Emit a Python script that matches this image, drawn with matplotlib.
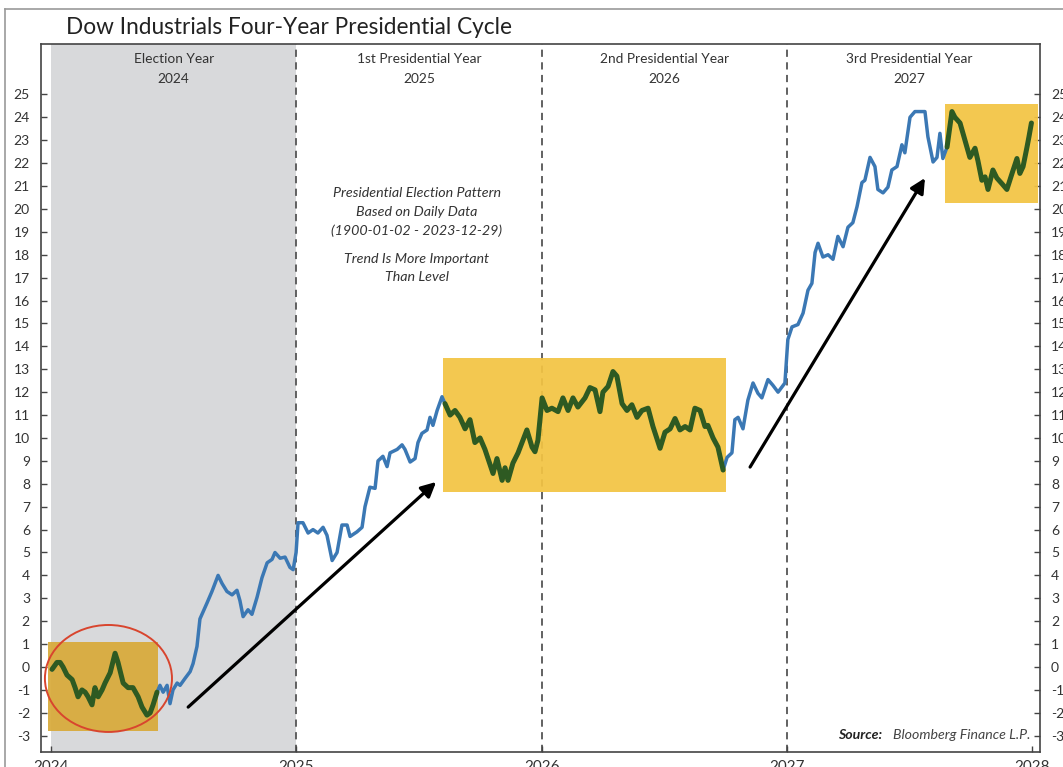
import matplotlib
matplotlib.use("Agg")
import matplotlib.pyplot as plt
from matplotlib.patches import Rectangle, Ellipse
import numpy as np

# ---------------- data ----------------
title = "Dow Industrials Four-Year Presidential Cycle"
year_ticks = [2024, 2025, 2026, 2027, 2028]
y_ticks = list(range(-3, 26))
year_headers = [("Election Year", "2024"), ("1st Presidential Year", "2025"),
                ("2nd Presidential Year", "2026"), ("3rd Presidential Year", "2027")]

t_years = [
    2024.004, 2024.024, 2024.037, 2024.049, 2024.065, 2024.086, 2024.098, 2024.110, 2024.126, 2024.139,
    2024.151, 2024.167, 2024.179, 2024.192, 2024.208, 2024.220, 2024.241, 2024.261, 2024.273, 2024.294,
    2024.314, 2024.334, 2024.355, 2024.371, 2024.391, 2024.404, 2024.416, 2024.432, 2024.444, 2024.457,
    2024.473, 2024.485, 2024.497, 2024.514, 2024.526, 2024.546, 2024.567, 2024.579, 2024.595, 2024.607,
    2024.636, 2024.656, 2024.681, 2024.697, 2024.717, 2024.738, 2024.758, 2024.770, 2024.783, 2024.803,
    2024.819, 2024.840, 2024.860, 2024.881, 2024.901, 2024.913, 2024.934, 2024.954, 2024.974, 2024.987,
    2024.999, 2025.007, 2025.027, 2025.048, 2025.068, 2025.088, 2025.109, 2025.125, 2025.146, 2025.166,
    2025.186, 2025.207, 2025.219, 2025.247, 2025.268, 2025.280, 2025.300, 2025.321, 2025.333, 2025.353,
    2025.370, 2025.382, 2025.411, 2025.431, 2025.443, 2025.464, 2025.484, 2025.496, 2025.512, 2025.533,
    2025.545, 2025.557, 2025.574, 2025.594, 2025.606, 2025.627, 2025.647, 2025.667, 2025.688, 2025.708,
    2025.728, 2025.749, 2025.769, 2025.802, 2025.818, 2025.839, 2025.851, 2025.863, 2025.883, 2025.904,
    2025.940, 2025.961, 2025.973, 2025.985, 2026.002, 2026.022, 2026.042, 2026.067, 2026.087, 2026.108,
    2026.128, 2026.148, 2026.177, 2026.197, 2026.218, 2026.238, 2026.250, 2026.271, 2026.291, 2026.307,
    2026.328, 2026.348, 2026.368, 2026.389, 2026.409, 2026.434, 2026.454, 2026.483, 2026.503, 2026.524,
    2026.544, 2026.564, 2026.585, 2026.605, 2026.625, 2026.646, 2026.666, 2026.678, 2026.699, 2026.719,
    2026.740, 2026.756, 2026.776, 2026.788, 2026.801, 2026.821, 2026.841, 2026.862, 2026.882, 2026.898,
    2026.923, 2026.943, 2026.964, 2026.992, 2027.004, 2027.021, 2027.045, 2027.066, 2027.086, 2027.102,
    2027.115, 2027.127, 2027.147, 2027.168, 2027.188, 2027.208, 2027.229, 2027.249, 2027.269, 2027.286,
    2027.306, 2027.318, 2027.339, 2027.359, 2027.371, 2027.392, 2027.412, 2027.428, 2027.449, 2027.469,
    2027.481, 2027.502, 2027.522, 2027.543, 2027.563, 2027.575, 2027.596, 2027.612, 2027.624, 2027.636,
    2027.653, 2027.673, 2027.685, 2027.706, 2027.726, 2027.746, 2027.767, 2027.779, 2027.795, 2027.808,
    2027.820, 2027.840, 2027.856, 2027.877, 2027.897, 2027.918, 2027.938, 2027.950, 2027.963, 2027.979,
    2027.987, 2027.997,
]
values = [
    -0.1, 0.2, 0.2, 0.0, -0.35, -0.55, -0.9, -1.3, -1.0, -1.1,
    -1.3, -1.65, -0.9, -1.3, -1.0, -0.7, -0.25, 0.6, 0.2, -0.7,
    -0.9, -0.9, -1.3, -1.75, -2.1, -2.0, -1.65, -1.1, -0.8, -1.1,
    -0.8, -1.6, -1.0, -0.7, -0.8, -0.5, -0.2, 0.15, 0.9, 2.1,
    2.8, 3.3, 4.0, 3.65, 3.3, 3.15, 3.35, 2.9, 2.2, 2.5,
    2.3, 3.05, 3.9, 4.55, 4.7, 5.0, 4.75, 4.8, 4.35, 4.25,
    5.0, 6.3, 6.3, 5.85, 6.0, 5.85, 6.1, 5.75, 4.65, 5.0,
    6.2, 6.2, 5.7, 5.9, 6.1, 7.0, 7.85, 7.8, 9.0, 9.2,
    8.75, 9.35, 9.5, 9.7, 9.5, 8.95, 9.1, 9.8, 10.2, 10.35,
    10.9, 10.55, 11.2, 11.8, 11.5, 11.0, 11.2, 10.9, 10.4, 10.8,
    9.8, 10.0, 9.5, 8.45, 9.1, 8.15, 8.7, 8.15, 8.9, 9.35,
    10.35, 9.6, 9.4, 9.9, 11.75, 11.2, 11.3, 11.15, 11.75, 11.2,
    11.75, 11.35, 11.75, 12.2, 12.1, 11.15, 12.0, 12.25, 12.9, 12.7,
    11.5, 11.2, 11.45, 10.9, 11.2, 11.3, 10.5, 9.55, 10.25, 10.4,
    10.85, 10.35, 10.5, 10.35, 11.3, 11.2, 10.5, 10.55, 10.0, 9.6,
    8.6, 9.15, 9.35, 10.8, 10.9, 10.4, 11.65, 12.4, 11.95, 11.75,
    12.55, 12.3, 12.0, 12.4, 14.3, 14.85, 14.95, 15.45, 16.45, 16.75,
    18.1, 18.5, 17.9, 18.0, 17.8, 18.8, 18.35, 19.2, 19.4, 20.1,
    21.15, 21.25, 22.25, 21.85, 20.85, 20.7, 20.95, 21.7, 21.85, 22.8,
    22.45, 24.0, 24.25, 24.25, 24.25, 23.15, 22.05, 22.25, 23.3, 22.2,
    22.7, 24.25, 24.0, 23.75, 23.0, 22.25, 22.65, 22.1, 21.25, 21.4,
    20.85, 21.7, 21.35, 21.1, 20.85, 21.55, 22.2, 21.55, 21.85, 22.7,
    23.15, 23.75,
]

# highlight boxes: (start year, end year, low, high)
box_start = [2023.988, 2025.598, 2027.645]
box_end = [2024.436, 2026.752, 2028.024]
box_low = [-2.8, 7.65, 20.25]
box_high = [1.1, 13.5, 24.6]

# arrows: (x0, y0, x1, y1)
arrow_x0 = [2024.559, 2026.850]
arrow_y0 = [-1.75, 8.73]
arrow_x1 = [2025.570, 2027.563]
arrow_y1 = [8.08, 21.35]

note_lines = ["Presidential Election Pattern", "Based on Daily Data",
              "(1900-01-02 - 2023-12-29)", "", "Trend Is More Important", "Than Level"]

# ---------------- styling ----------------
FONT = "Lato"
plt.rcParams["font.family"] = [FONT, "DejaVu Sans"]
TXT = "#333333"
W, H = 1063, 767

fig = plt.figure(figsize=(W / 100, H / 100), dpi=100)
ax = fig.add_axes([41/W, 1-752/H, (1040-41)/W, (752-44)/H])
ax.set_xlim(2023.959, 2028.032)
ax.set_ylim(-3.71, 27.2)

# election year shading
ax.axvspan(2024, 2025, color="#D8D9DB", zorder=0, lw=0)

# dashed year dividers
for yr in year_ticks[1:4]:
    ax.axvline(yr, color="#555555", lw=1.3, ls=(0, (4, 3)), zorder=1)

# highlight boxes
box_colors = ["#D8AA3A", "#F3C443", "#F3C443"]
for s, e, lo, hi, c in zip(box_start, box_end, box_low, box_high, box_colors):
    ax.add_patch(Rectangle((s, lo), e - s, hi - lo, facecolor=c, edgecolor="none",
                           alpha=0.93, zorder=2))

# line: blue, green inside highlight boxes
t = np.array(t_years)
v = np.array(values)
ax.plot(t, v, color="#3B78B4", lw=2.5, zorder=3, solid_joinstyle="round")
for s, e in zip(box_start, box_end):
    idx = np.where((t >= s) & (t <= e))[0]
    if len(idx):
        ax.plot(t[idx[0]:idx[-1] + 1], v[idx[0]:idx[-1] + 1], color="#2E5A22", lw=3.6,
                zorder=4, solid_joinstyle="round", solid_capstyle="round")

# red ellipse
ax.add_patch(Ellipse((2024.234, -0.50), 0.518, 4.67, fill=False, edgecolor="#D8452E",
                     lw=1.4, zorder=5))

# arrows
for x0, y0, x1, y1 in zip(arrow_x0, arrow_y0, arrow_x1, arrow_y1):
    ax.annotate("", xy=(x1, y1), xytext=(x0, y0),
                arrowprops=dict(arrowstyle="-|>", color="black", lw=2.3,
                                mutation_scale=22, shrinkA=0, shrinkB=0), zorder=6)

# year headers
for i, (h1, h2) in enumerate(year_headers):
    xc = year_ticks[i] + 0.5
    ax.text(xc, 26.55, h1, ha="center", va="center", fontsize=9.9, color=TXT)
    ax.text(xc, 25.68, h2, ha="center", va="center", fontsize=9.9, color=TXT)

# note
note_y = [20.7, 19.87, 19.04, 18.2, 17.8, 17.03]
for line, yy in zip(note_lines, note_y):
    if line:
        ax.text(2025.49, yy, line, ha="center", va="center", fontsize=10.3,
                style="italic", color=TXT)

# source (positioned in figure pixels)
fig.text(893/W, 1-735/H, "Bloomberg Finance L.P.", ha="left", va="center", fontsize=10.2,
         style="italic", color="#444444")
fig.text(882/W, 1-735/H, "Source:", ha="right", va="center", fontsize=10.2,
         style="italic", weight="bold", color="#222222")

# ticks
ax.set_xticks(year_ticks)
ax.set_xticklabels([str(y) for y in year_ticks])
ax.set_yticks(y_ticks)
ax.set_yticklabels([str(y) for y in y_ticks])
ax.tick_params(axis="both", direction="in", length=4, width=1, color="#444444",
               labelsize=10, labelcolor=TXT)
ax.tick_params(axis="y", pad=8, right=True, labelright=True)
ax.tick_params(axis="x", pad=6, labelsize=11)
for sp in ax.spines.values():
    sp.set_color("#444444")
    sp.set_linewidth(1.2)

# title
fig.text(66/W, 1-27/H, title, ha="left", va="center", fontsize=16.3, color="#222222")

# outer frame lines
fig.add_artist(plt.Line2D([5/W, 5/W], [0, 1-9/H], color="#9A9A9A", lw=1.2))
fig.add_artist(plt.Line2D([5/W, 1], [1-9/H, 1-9/H], color="#9A9A9A", lw=1.2))

fig.savefig("out.png", dpi=100)
